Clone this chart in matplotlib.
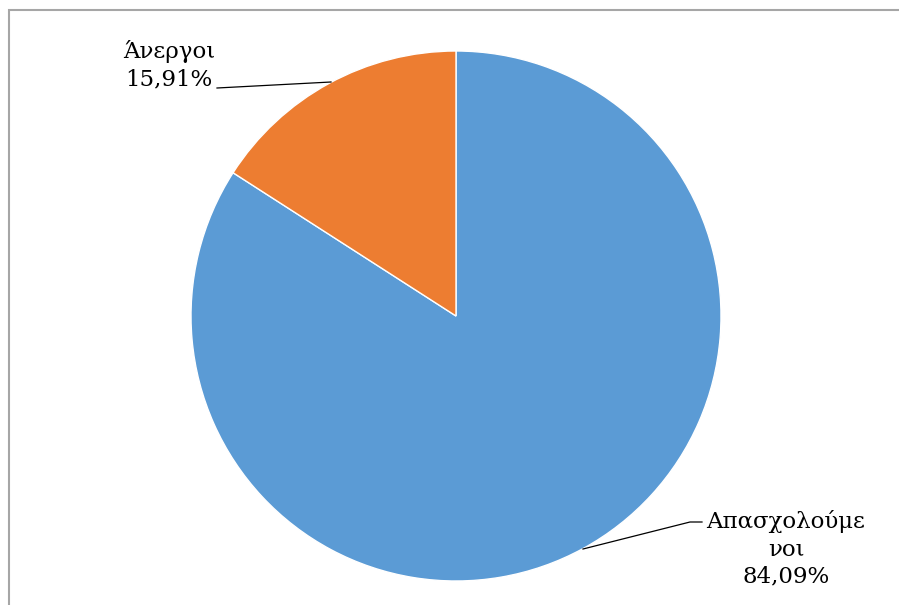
import matplotlib
matplotlib.use("Agg")
import matplotlib.pyplot as plt
from matplotlib.patches import Rectangle

categories = ["Απασχολούμε\nνοι", "Άνεργοι"]
values = [84.09, 15.91]
value_labels = ["84,09%", "15,91%"]
colors = ["#5B9BD5", "#ED7D31"]

W, H = 899, 605
CX, CY, R = 456, 316, 265

fig = plt.figure(figsize=(W / 100, H / 100), dpi=100)
ax = fig.add_axes([0, 0, 1, 1])

def P(px, py):
    return ((px - CX) / R, (CY - py) / R)

ax.pie(values, colors=colors, startangle=90, counterclock=False, radius=1,
       center=(0, 0), frame=True,
       wedgeprops=dict(edgecolor="white", linewidth=1))
ax.set_xlim(-CX / R, (W - CX) / R)
ax.set_ylim(-(H - CY) / R, CY / R)
ax.set_aspect("auto")
ax.axis("off")

font = dict(family="DejaVu Serif", fontsize=16.5, color="black")

# labels
x, y = P(169, 65)
ax.text(x, y, categories[1] + "\n" + value_labels[1], ha="center", va="center",
        linespacing=1.3, **font)
x, y = P(786, 549)
ax.text(x, y, categories[0] + "\n" + value_labels[0], ha="center", va="center",
        linespacing=1.3, **font)

# leader lines
xs, ys = zip(P(217, 88), P(331, 82))
ax.plot(xs, ys, color="black", lw=0.9)
xs, ys = zip(P(583, 549), P(690, 522), P(702, 522))
ax.plot(xs, ys, color="black", lw=0.9)

# frame
fig.patches.append(Rectangle((9 / W, -0.05), 1.2, (H - 10) / H + 0.05,
                             transform=fig.transFigure, fill=False,
                             edgecolor="#A6A6A6", linewidth=1.5))

fig.savefig("out.png", dpi=100, facecolor="white")
